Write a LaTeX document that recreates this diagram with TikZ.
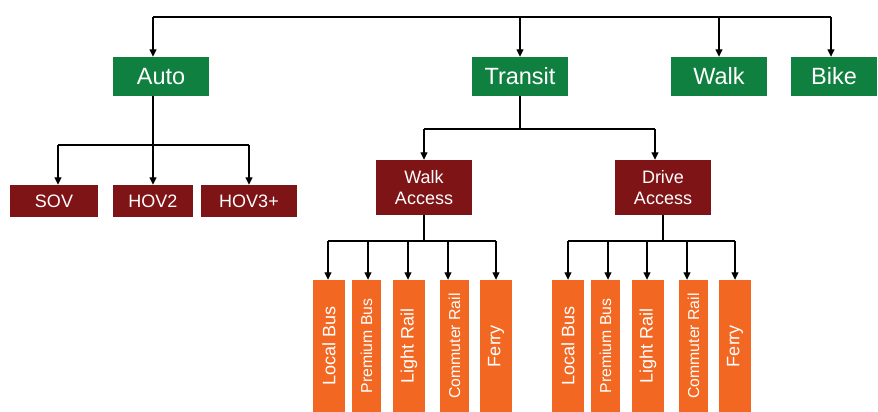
\documentclass[tikz,border=0pt]{standalone}
\usepackage{fontspec}
\setmainfont{Liberation Sans}
\usetikzlibrary{arrows.meta}
\definecolor{modegreen}{RGB}{16,128,64}
\definecolor{accred}{RGB}{126,20,22}
\definecolor{subor}{RGB}{242,104,34}
\tikzset{
  box/.style={rectangle, inner sep=0pt, text=white, align=center},
  gbox/.style={box, fill=modegreen, minimum height=39pt, font=\fontsize{23.5}{28}\selectfont},
  rbox/.style={box, fill=accred, minimum height=32pt, font=\fontsize{18}{21}\selectfont},
  abox/.style={box, fill=accred, minimum width=96pt, minimum height=55pt, font=\fontsize{18}{21}\selectfont},
  obox/.style={box, fill=subor, minimum width=32pt, minimum height=132pt, font=\fontsize{18}{21}\selectfont},
  oboxs/.style={box, fill=subor, minimum width=29pt, minimum height=132pt, font=\fontsize{15.8}{19}\selectfont},
  conn/.style={draw=black, line width=1.1pt},
  arr/.style={conn, -{Triangle[width=7pt,length=7.5pt]}}
}
\begin{document}
\begin{tikzpicture}[x=1pt, y=-1pt]
\useasboundingbox (0,0) rectangle (878,412);
% level 1
\node[gbox, minimum width=96pt] (auto) at (161,76.5) {Auto};
\node[gbox, minimum width=96pt] (transit) at (520,76.5) {Transit};
\node[gbox, minimum width=96pt] (walk) at (719,76.5) {Walk};
\node[gbox, minimum width=86pt] (bike) at (834,76.5) {Bike};
% level 2
\node[rbox, minimum width=88pt] (sov) at (54,201) {SOV};
\node[rbox, minimum width=80pt] (hov2) at (153,201) {HOV2};
\node[rbox, minimum width=96pt] (hov3) at (249,201) {HOV3+};
\node[abox] (wa) at (424,187.5) {Walk\\Access};
\node[abox] (da) at (663,187.5) {Drive\\Access};
% level 3 walk access
\node[obox] (wlb) at (329,346) {\rotatebox{90}{Local Bus}};
\node[oboxs] (wpb) at (366.5,346) {\rotatebox{90}{Premium Bus}};
\node[obox] (wlr) at (409,346) {\rotatebox{90}{Light Rail}};
\node[oboxs] (wcr) at (454.5,346) {\rotatebox{90}{Commuter Rail}};
\node[obox] (wfe) at (496,346) {\rotatebox{90}{Ferry}};
% level 3 drive access
\node[obox] (dlb) at (568,346) {\rotatebox{90}{Local Bus}};
\node[oboxs] (dpb) at (605.5,346) {\rotatebox{90}{Premium Bus}};
\node[obox] (dlr) at (648,346) {\rotatebox{90}{Light Rail}};
\node[oboxs] (dcr) at (693.5,346) {\rotatebox{90}{Commuter Rail}};
\node[obox] (dfe) at (735,346) {\rotatebox{90}{Ferry}};
% top bus
\coordinate (tl) at (153,17);
\coordinate (tr) at (831,17);
\draw[conn] (tl) -- (tr);
\draw[arr] (tl) -- ([xshift=-8pt]auto.north);
\draw[arr] (transit.north |- tl) -- (transit.north);
\draw[arr] (walk.north |- tl) -- (walk.north);
\draw[arr] (tr) -- ([xshift=-3pt]bike.north);
% auto branch
\coordinate (ab) at (153,145);
\draw[conn] ([xshift=-8pt]auto.south) -- (ab);
\draw[conn] ([xshift=4pt]sov.north |- ab) -- (hov3.north |- ab);
\draw[arr] (ab) -- (hov2.north);
\draw[arr] ([xshift=4pt]sov.north |- ab) -- ([xshift=4pt]sov.north);
\draw[arr] (hov3.north |- ab) -- (hov3.north);
% transit branch
\coordinate (tb) at (520,129);
\draw[conn] (transit.south) -- (tb);
\draw[conn] (wa.north |- tb) -- ([xshift=-8pt]da.north |- tb);
\draw[arr] (wa.north |- tb) -- (wa.north);
\draw[arr] ([xshift=-8pt]da.north |- tb) -- ([xshift=-8pt]da.north);
% walk access branch
\coordinate (wb) at (424,241);
\draw[conn] (wa.south) -- (wb);
\draw[conn] ([xshift=-1pt]wlb.north |- wb) -- (wfe.north |- wb);
\draw[arr] ([xshift=-1pt]wlb.north |- wb) -- ([xshift=-1pt]wlb.north);
\draw[arr] ([xshift=1.5pt]wpb.north |- wb) -- ([xshift=1.5pt]wpb.north);
\draw[arr] ([xshift=-1pt]wlr.north |- wb) -- ([xshift=-1pt]wlr.north);
\draw[arr] ([xshift=-6.5pt]wcr.north |- wb) -- ([xshift=-6.5pt]wcr.north);
\draw[arr] (wfe.north |- wb) -- (wfe.north);
% drive access branch
\coordinate (db) at (663,241);
\draw[conn] (da.south) -- (db);
\draw[conn] (dlb.north |- db) -- (dfe.north |- db);
\draw[arr] (dlb.north |- db) -- (dlb.north);
\draw[arr] ([xshift=2.5pt]dpb.north |- db) -- ([xshift=2.5pt]dpb.north);
\draw[arr] ([xshift=-1pt]dlr.north |- db) -- ([xshift=-1pt]dlr.north);
\draw[arr] ([xshift=-6.5pt]dcr.north |- db) -- ([xshift=-6.5pt]dcr.north);
\draw[arr] (dfe.north |- db) -- (dfe.north);
\end{tikzpicture}
\end{document}
